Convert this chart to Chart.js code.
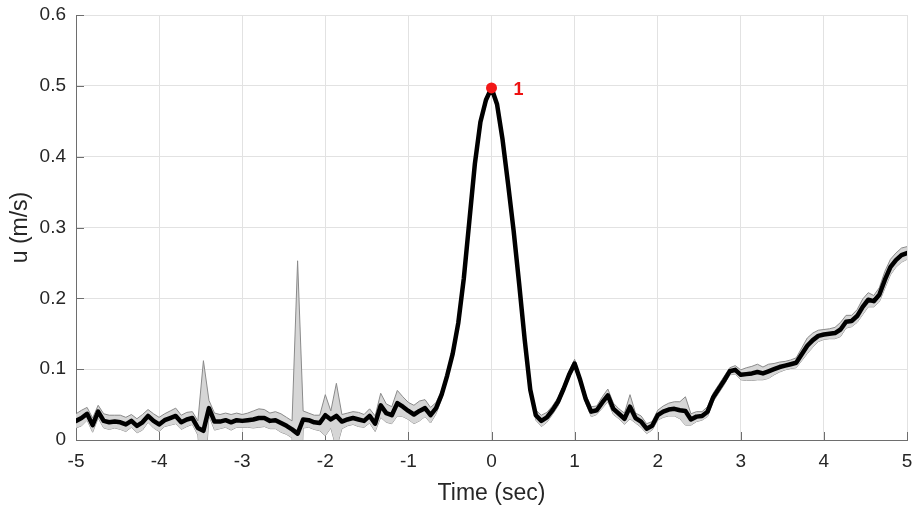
<!DOCTYPE html>
<html>
<head>
<meta charset="utf-8">
<script src="https://cdn.jsdelivr.net/npm/chart.js@4/dist/chart.umd.min.js"></script>
<style>
html,body{margin:0;padding:0;background:#fff;}
canvas{display:block;}
</style>
</head>
<body>
<canvas id="c" width="914" height="510"></canvas>
<script>
// ---- data ----
const sampleRate = 15;      // samples per second
const startTime = -5;       // s

const meanU = [
 0.027,0.031,0.037,0.021,0.040,0.027,0.025,0.026,0.025,0.022,
 0.027,0.020,0.025,0.034,0.027,0.022,0.028,0.031,0.034,0.025,
 0.029,0.031,0.017,0.013,0.045,0.026,0.026,0.028,0.025,0.028,
 0.027,0.028,0.029,0.031,0.031,0.027,0.028,0.024,0.020,0.015,
 0.009,0.029,0.028,0.025,0.024,0.035,0.029,0.034,0.026,0.029,
 0.031,0.029,0.027,0.034,0.023,0.049,0.038,0.035,0.052,0.047,
 0.041,0.036,0.041,0.045,0.035,0.045,0.064,0.091,0.122,0.165,
 0.228,0.309,0.390,0.449,0.480,0.497,0.474,0.424,0.361,0.295,
 0.220,0.141,0.071,0.035,0.027,0.032,0.042,0.054,0.072,0.092,
 0.108,0.085,0.058,0.040,0.042,0.053,0.063,0.044,0.037,0.030,
 0.047,0.031,0.026,0.016,0.020,0.035,0.040,0.043,0.044,0.042,
 0.041,0.029,0.033,0.034,0.040,0.060,0.072,0.084,0.097,0.099,
 0.092,0.093,0.094,0.096,0.094,0.097,0.100,0.103,0.105,0.107,
 0.109,0.121,0.133,0.141,0.147,0.149,0.150,0.151,0.156,0.167,
 0.168,0.175,0.188,0.198,0.196,0.205,0.226,0.244,0.254,0.261,
 0.264
];

const sdU = [
 0.010,0.011,0.009,0.010,0.009,0.010,0.010,0.009,0.010,0.010,
 0.009,0.010,0.011,0.009,0.010,0.010,0.009,0.010,0.011,0.010,
 0.010,0.009,0.010,0.099,0.011,0.012,0.010,0.010,0.011,0.010,
 0.009,0.010,0.012,0.013,0.012,0.011,0.012,0.013,0.012,0.012,
 0.244,0.012,0.010,0.010,0.011,0.029,0.012,0.046,0.010,0.009,
 0.009,0.010,0.009,0.010,0.011,0.017,0.013,0.012,0.018,0.014,
 0.012,0.013,0.014,0.012,0.011,0.008,0.006,0.005,0.004,0.004,
 0.004,0.004,0.004,0.004,0.004,0.004,0.004,0.004,0.004,0.004,
 0.004,0.004,0.004,0.007,0.008,0.007,0.006,0.006,0.005,0.005,
 0.006,0.005,0.006,0.007,0.006,0.008,0.009,0.008,0.007,0.008,
 0.017,0.007,0.008,0.007,0.006,0.007,0.008,0.009,0.010,0.012,
 0.020,0.008,0.007,0.006,0.007,0.006,0.006,0.006,0.005,0.006,
 0.007,0.009,0.010,0.011,0.009,0.010,0.008,0.007,0.006,0.006,
 0.007,0.009,0.011,0.010,0.008,0.007,0.007,0.008,0.010,0.009,
 0.008,0.009,0.011,0.010,0.008,0.010,0.012,0.011,0.010,0.010,
 0.009
];

const xTicks = [-5,-4,-3,-2,-1,0,1,2,3,4,5];
const yTicks = [0,0.1,0.2,0.3,0.4,0.5,0.6];
const peakLabelText = '1';
const xTitle = 'Time (sec)';
const yTitle = 'u (m/s)';

// ---- build datasets ----
const time = meanU.map((_, i) => startTime + i / sampleRate);
const meanPts  = meanU.map((m, i) => ({x: time[i], y: m}));
const upperPts = meanU.map((m, i) => ({x: time[i], y: m + sdU[i]}));
const lowerPts = meanU.map((m, i) => ({x: time[i], y: m - sdU[i]}));
let peakIdx = 0;
meanU.forEach((v, i) => { if (v > meanU[peakIdx]) peakIdx = i; });
const peakPts = [{x: time[peakIdx], y: meanU[peakIdx]}];

const FONT = '"Liberation Sans", Arial, Helvetica, sans-serif';
const axisColor = '#6e6e6e';
const gridColor = '#e2e2e2';
const textColor = '#262626';

const inwardTicks = {
  id: 'inwardTicks',
  beforeDatasetsDraw(chart) {
    const {ctx, chartArea: a, scales: {x, y}} = chart;
    ctx.save();
    ctx.strokeStyle = axisColor;
    ctx.lineWidth = 1;
    ctx.beginPath();
    x.ticks.forEach(t => {
      const px = Math.round(x.getPixelForValue(t.value)) + 0.5;
      ctx.moveTo(px, a.bottom); ctx.lineTo(px, a.bottom - 8);
    });
    y.ticks.forEach(t => {
      const py = Math.round(y.getPixelForValue(t.value)) + 0.5;
      ctx.moveTo(a.left, py); ctx.lineTo(a.left + 8, py);
    });
    ctx.stroke();
    ctx.restore();
  }
};

const peakLabel = {
  id: 'peakLabel',
  afterDatasetsDraw(chart) {
    const meta = chart.getDatasetMeta(3);
    const el = meta.data[0];
    if (!el) return;
    const ctx = chart.ctx;
    ctx.save();
    ctx.fillStyle = '#ee1111';
    ctx.font = 'bold 18px ' + FONT;
    ctx.textAlign = 'left';
    ctx.textBaseline = 'middle';
    ctx.fillText(peakLabelText, el.x + 22, el.y + 2);
    ctx.restore();
  }
};

new Chart(document.getElementById('c'), {
  type: 'line',
  data: {
    datasets: [
      {label: 'mean', data: meanPts, borderColor: '#000', borderWidth: 4.5,
       pointRadius: 0, fill: false, tension: 0, order: 1,
       borderJoinStyle: 'round', borderCapStyle: 'round'},
      {label: 'upper', data: upperPts, borderColor: '#8a8a8a', borderWidth: 1,
       backgroundColor: '#d6d6d6', fill: '+1', pointRadius: 0, tension: 0, order: 3},
      {label: 'lower', data: lowerPts, borderColor: '#8a8a8a', borderWidth: 1,
       fill: false, pointRadius: 0, tension: 0, order: 3},
      {type: 'scatter', label: 'peak', data: peakPts, pointRadius: 5.5,
       backgroundColor: '#f21818', borderWidth: 0, showLine: false, order: 0}
    ]
  },
  options: {
    responsive: false,
    animation: false,
    layout: {padding: {left: 0, right: 7, top: 15, bottom: 0}},
    plugins: {legend: {display: false}, tooltip: {enabled: false}},
    scales: {
      x: {
        type: 'linear', min: -5, max: 5,
        afterBuildTicks(s) { s.ticks = xTicks.map(v => ({value: v})); },
        afterFit(s) { s.height = 70; s.paddingLeft = 0; s.paddingRight = 0; },
        grid: {color: gridColor, drawTicks: false},
        border: {color: axisColor, width: 1},
        ticks: {padding: 10, color: textColor, font: {family: FONT, size: 19},
                callback: v => String(v), maxRotation: 0, autoSkip: false},
        title: {display: true, text: xTitle, color: textColor,
                font: {family: FONT, size: 23}, padding: {top: 0, bottom: 3}}
      },
      y: {
        type: 'linear', min: 0, max: 0.6,
        afterBuildTicks(s) { s.ticks = yTicks.map(v => ({value: v})); },
        afterFit(s) { s.width = 76; s.paddingTop = 0; s.paddingBottom = 0; },
        grid: {color: gridColor, drawTicks: false},
        border: {color: axisColor, width: 1},
        ticks: {padding: 10, color: textColor, font: {family: FONT, size: 19},
                callback: v => String(Number(v.toFixed(1))), autoSkip: false},
        title: {display: true, text: yTitle, color: textColor,
                font: {family: FONT, size: 23}, padding: {top: 7, bottom: 0}}
      }
    }
  },
  plugins: [inwardTicks, peakLabel]
});
</script>
</body>
</html>
